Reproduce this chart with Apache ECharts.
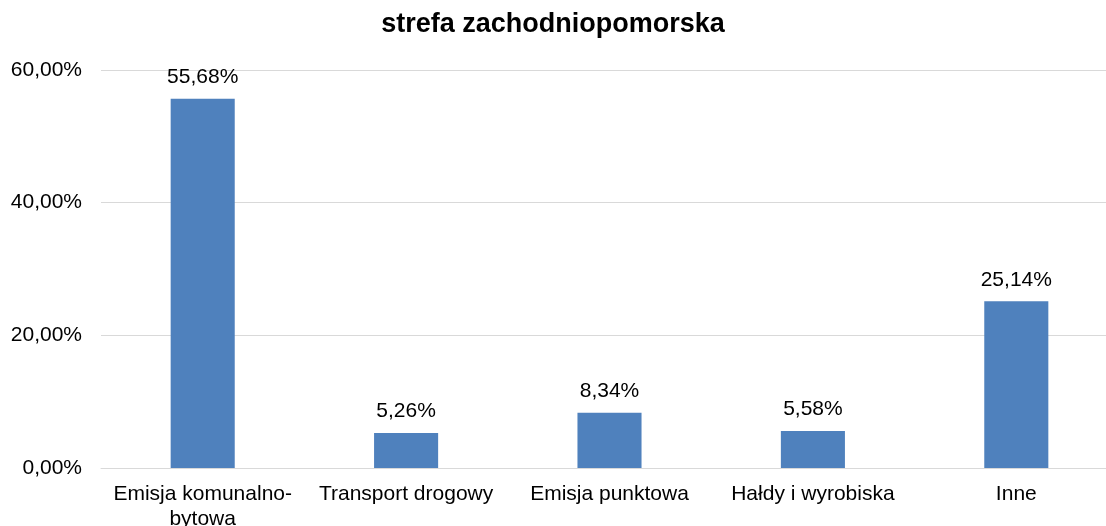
<!DOCTYPE html>
<html><head><meta charset="utf-8">
<script src="https://cdn.jsdelivr.net/npm/echarts@6/dist/echarts.min.js"></script>
<style>html,body{margin:0;padding:0;background:#fff}#c{width:1106px;height:526px}</style>
</head><body><div id="c"></div>
<script>
const categories = ['Emisja komunalno-bytowa', 'Transport drogowy', 'Emisja punktowa', 'Hałdy i wyrobiska', 'Inne'];
const values = [55.68, 5.26, 8.34, 5.58, 25.14];
const titleText = 'strefa zachodniopomorska';
const fmt = v => v.toFixed(2).replace('.', ',') + '%';
const FONT = '"Liberation Sans", Arial, sans-serif';
const chart = echarts.init(document.getElementById('c'), null, {renderer: 'canvas'});
chart.setOption({
  animation: false,
  textStyle: {fontFamily: FONT},
  title: {text: titleText, left: 'center', top: 6,
    textStyle: {fontSize: 27, fontWeight: 'bold', color: '#000', fontFamily: FONT}},
  grid: {left: 101, width: 1017, top: 70, bottom: 58, containLabel: false, outerBoundsMode: 'none'},
  xAxis: {type: 'category', data: categories,
    axisLine: {show: true, lineStyle: {color: '#D9D9D9', width: 1}},
    axisTick: {show: false},
    axisLabel: {fontSize: 21, color: '#000', margin: 14, lineHeight: 25, interval: 0,
      formatter: v => v.replace('-', '-\n')}},
  yAxis: {type: 'value', min: 0, max: 60, interval: 20,
    axisLine: {show: false}, axisTick: {show: false},
    splitLine: {lineStyle: {color: '#D9D9D9', width: 1}},
    axisLabel: {fontSize: 21, color: '#000', margin: 19, formatter: fmt}},
  series: [{type: 'bar', data: values, barWidth: '31.5%',
    itemStyle: {color: '#4F81BD'},
    label: {show: true, position: 'top', distance: 11, fontSize: 21, color: '#000',
      formatter: p => fmt(p.value)}}]
});
</script></body></html>
